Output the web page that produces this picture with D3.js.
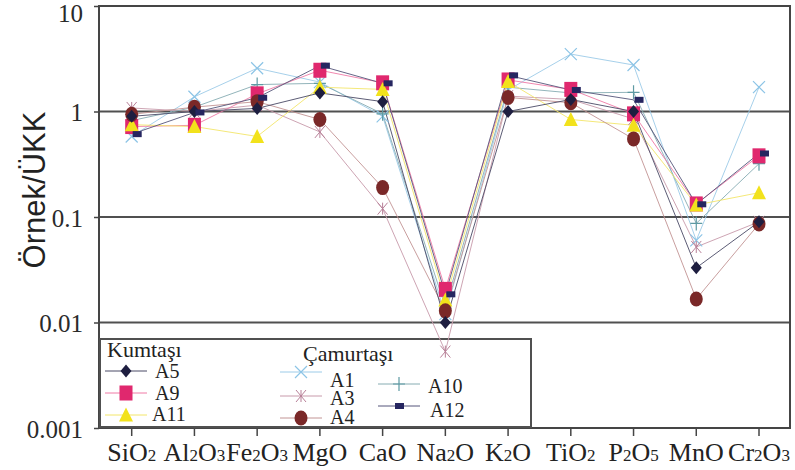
<!DOCTYPE html>
<html>
<head>
<meta charset="utf-8">
<script src="https://cdn.jsdelivr.net/npm/d3@7"></script>
<style>
body { margin: 0; background: #fff; }
svg { display: block; }
text { font-family: "Liberation Serif", "DejaVu Serif", serif; fill: #222; }
</style>
</head>
<body>
<svg id="chart" width="795" height="470"></svg>
<script>
//data//
var oxides = [["SiO", "2"], ["Al", "2", "O", "3"], ["Fe", "2", "O", "3"], ["MgO"], ["CaO"],
              ["Na", "2", "O"], ["K", "2", "O"], ["TiO", "2"], ["P", "2", "O", "5"], ["MnO"], ["Cr", "2", "O", "3"]];
var oxideKeys = ["SiO2", "Al2O3", "Fe2O3", "MgO", "CaO", "Na2O", "K2O", "TiO2", "P2O5", "MnO", "Cr2O3"];
var yTicks = [10, 1, 0.1, 0.01, 0.001];
var yTickLabels = ["10", "1", "0.1", "0.01", "0.001"];

var A5  = [0.90, 1.00, 1.07, 1.50, 1.24, 0.0100, 1.00, 1.30, 1.00, 0.033, 0.090];
var A9  = [0.72, 0.74, 1.47, 2.46, 1.87, 0.0206, 1.99, 1.62, 0.95, 0.133, 0.380];
var A11 = [0.75, 0.72, 0.58, 1.70, 1.62, 0.0163, 1.92, 0.84, 0.74, 0.130, 0.170];
var A1  = [0.58, 1.38, 2.57, 1.90, 0.90, 0.0120, 1.60, 3.50, 2.76, 0.060, 1.700];
var A3  = [1.08, 1.00, 1.15, 0.64, 0.12, 0.0053, 1.40, 1.30, 0.85, 0.052, 0.090];
var A4  = [0.94, 1.10, 1.24, 0.84, 0.19, 0.0129, 1.36, 1.21, 0.55, 0.0167, 0.086];
var A10 = [0.82, 1.10, 1.80, 1.85, 0.95, 0.0140, 1.70, 1.50, 1.52, 0.087, 0.320];
var A12 = [0.61, 0.98, 1.35, 2.72, 1.85, 0.0185, 2.20, 1.60, 1.29, 0.132, 0.400];

//drawing order: later ones sit on top//
var series = [
  {name: "A1",  values: A1,  shape: "x",        fill: "#8cc4e6", line: "#9ccbe8"},
  {name: "A3",  values: A3,  shape: "asterisk", fill: "#b88098", line: "#c89aab"},
  {name: "A10", values: A10, shape: "plus",     fill: "#5e9aa3", line: "#86acb2"},
  {name: "A9",  values: A9,  shape: "square",   fill: "#e0286e", line: "#f07aa6"},
  {name: "A11", values: A11, shape: "triangle", fill: "#f2e21c", line: "#f3e66a"},
  {name: "A4",  values: A4,  shape: "circle",   fill: "#7a2828", line: "#c29494"},
  {name: "A5",  values: A5,  shape: "diamond",  fill: "#1e1e40", line: "#4a4a66"},
  {name: "A12", values: A12, shape: "rect",     fill: "#262660", line: "#55557a"}
];

//variables//
var margins = {top: 6, right: 5, bottom: 42, left: 99};
var plotRight = 790;
var plotBottom = 428;

var xScale = d3.scalePoint()
               .domain(oxideKeys)
               .range([131.7, 759]);

var yScale = d3.scaleLog()
               .domain([0.001, 10])
               .range([plotBottom, margins.top]);

var svg = d3.select("#chart");

var drawMarker = function(g, shape, fill, x, y)
{
    if (shape == "square")
    {
        g.append("rect").attr("x", x - 6.5).attr("y", y - 7.5).attr("width", 13).attr("height", 15)
         .style("fill", fill);
    }
    else if (shape == "rect")
    {
        g.append("rect").attr("x", x + 1).attr("y", y - 3).attr("width", 9).attr("height", 6)
         .style("fill", fill);
    }
    else if (shape == "circle")
    {
        g.append("ellipse").attr("cx", x).attr("cy", y).attr("rx", 6.5).attr("ry", 7.5)
         .style("fill", fill);
    }
    else if (shape == "triangle")
    {
        g.append("path").attr("d", "M" + x + "," + (y - 7.5) + "L" + (x + 7) + "," + (y + 6.5) + "L" + (x - 7) + "," + (y + 6.5) + "Z")
         .style("fill", fill);
    }
    else if (shape == "diamond")
    {
        g.append("path").attr("d", "M" + x + "," + (y - 6.5) + "L" + (x + 5.5) + "," + y + "L" + x + "," + (y + 6.5) + "L" + (x - 5.5) + "," + y + "Z")
         .style("fill", fill);
    }
    else if (shape == "x")
    {
        g.append("path").attr("d", "M" + (x - 6) + "," + (y - 6) + "L" + (x + 6) + "," + (y + 6) + "M" + (x + 6) + "," + (y - 6) + "L" + (x - 6) + "," + (y + 6))
         .style("stroke", fill).style("stroke-width", 1.2).style("fill", "none");
    }
    else if (shape == "asterisk")
    {
        g.append("path").attr("d", "M" + (x - 5) + "," + (y - 6) + "L" + (x + 5) + "," + (y + 6) + "M" + (x + 5) + "," + (y - 6) + "L" + (x - 5) + "," + (y + 6) + "M" + x + "," + (y - 6) + "L" + x + "," + (y + 6))
         .style("stroke", fill).style("stroke-width", 1).style("fill", "none");
    }
    else if (shape == "plus")
    {
        g.append("path").attr("d", "M" + (x - 6) + "," + y + "L" + (x + 6) + "," + y + "M" + x + "," + (y - 7) + "L" + x + "," + (y + 7))
         .style("stroke", fill).style("stroke-width", 1.2).style("fill", "none");
    }
};

//gridlines and frame//
svg.append("g")
   .selectAll("line")
   .data([1, 0.1, 0.01])
   .enter()
   .append("line")
   .attr("x1", margins.left)
   .attr("x2", plotRight)
   .attr("y1", function(d) { return yScale(d); })
   .attr("y2", function(d) { return yScale(d); })
   .style("stroke", "#505050")
   .style("stroke-width", 2);

svg.append("path")
   .attr("d", "M" + margins.left + "," + margins.top + "H" + plotRight + "V" + plotBottom + "H" + margins.left + "Z")
   .style("fill", "none")
   .style("stroke", "#454545")
   .style("stroke-width", 2);

//y axis//
var yAxis = d3.axisLeft(yScale)
              .tickValues(yTicks)
              .tickSize(5)
              .tickFormat(function(d, i) { return yTickLabels[i]; });

svg.append("g")
   .attr("transform", "translate(" + margins.left + ",0)")
   .call(yAxis)
   .call(function(g)
         {
           g.select(".domain").remove();
           g.selectAll("line").style("stroke", "#454545").style("stroke-width", 1.5);
           g.selectAll("text")
            .attr("x", -16)
            .attr("dy", function(d) { return d == 10 ? "0.62em" : "0.36em"; })
            .style("font-family", "Liberation Serif").style("font-size", "25px").style("fill", "#2a2a2a");
         });

svg.append("text")
   .attr("transform", "translate(45,190) rotate(-90)")
   .attr("text-anchor", "middle")
   .style("font-family", "Liberation Sans")
   .style("font-size", "31px")
   .style("fill", "#222")
   .text("Örnek/ÜKK");

//x axis ticks and labels//
svg.append("g")
   .selectAll("line")
   .data(oxideKeys)
   .enter()
   .append("line")
   .attr("x1", function(d) { return xScale(d); })
   .attr("x2", function(d) { return xScale(d); })
   .attr("y1", plotBottom)
   .attr("y2", plotBottom + 8)
   .style("stroke", "#454545")
   .style("stroke-width", 1.5);

var xLabels = svg.append("g")
                 .selectAll("text")
                 .data(oxides)
                 .enter()
                 .append("text")
                 .attr("x", function(d, i) { return xScale(oxideKeys[i]); })
                 .attr("y", 461)
                 .attr("text-anchor", "middle")
                 .style("font-size", "26px");

xLabels.each(function(d)
             {
               var t = d3.select(this);
               d.forEach(function(part, j)
                         {
                           t.append("tspan")
                            .style("font-size", j % 2 == 1 ? "17px" : "26px")
                            .text(part);
                         });
             });

//legend box (drawn under the data lines)//
var legend = svg.append("g").attr("id", "legend");
legend.append("rect")
      .attr("x", 100)
      .attr("y", 339)
      .attr("width", 431)
      .attr("height", 88)
      .style("fill", "#fff")
      .style("stroke", "#505050")
      .style("stroke-width", 2);

var legendItems = [
  {name: "A5",  lx: 105, ly: 371, tx: 155, ty: 378},
  {name: "A9",  lx: 105, ly: 393, tx: 155, ty: 400},
  {name: "A11", lx: 105, ly: 415, tx: 152, ty: 421},
  {name: "A1",  lx: 280, ly: 372, tx: 330, ty: 387},
  {name: "A3",  lx: 280, ly: 396, tx: 330, ty: 405},
  {name: "A4",  lx: 280, ly: 418, tx: 330, ty: 424},
  {name: "A10", lx: 378, ly: 384, tx: 428, ty: 393},
  {name: "A12", lx: 378, ly: 406, tx: 430, ty: 417}
];

legend.append("text").attr("x", 107).attr("y", 357).style("font-size", "22px").text("Kumtaşı");
legend.append("text").attr("x", 303).attr("y", 361).style("font-size", "22px").text("Çamurtaşı");

legendItems.forEach(function(item)
{
    var s = series.filter(function(d) { return d.name == item.name; })[0];
    legend.append("line")
          .attr("x1", item.lx).attr("x2", item.lx + 42)
          .attr("y1", item.ly).attr("y2", item.ly)
          .style("stroke", s.line)
          .style("stroke-width", 1);
    drawMarker(legend, s.shape, s.fill, item.lx + 21 - (s.shape == "rect" ? 5 : 0), item.ly);
    legend.append("text")
          .attr("x", item.tx)
          .attr("y", item.ty)
          .style("font-size", "20px")
          .text(item.name);
});

//series lines//
var line = d3.line()
             .x(function(d, i) { return xScale(oxideKeys[i]); })
             .y(function(d) { return yScale(d); });

svg.append("g")
   .attr("id", "lines")
   .selectAll("path")
   .data(series)
   .enter()
   .append("path")
   .attr("d", function(d) { return line(d.values); })
   .style("fill", "none")
   .style("stroke", function(d) { return d.line; })
   .style("stroke-width", 1)
   .style("opacity", 0.9);

//markers//
var marks = svg.append("g").attr("id", "markers");
series.forEach(function(s)
{
    s.values.forEach(function(v, i)
    {
        drawMarker(marks, s.shape, s.fill, xScale(oxideKeys[i]), yScale(v));
    });
});
</script>
</body>
</html>
